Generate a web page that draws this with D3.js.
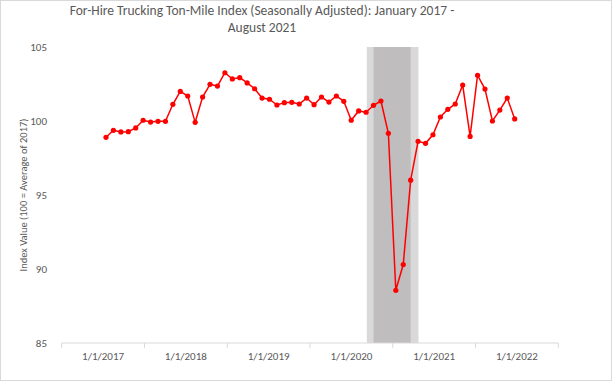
<!DOCTYPE html>
<html><head><meta charset="utf-8">
<script src="https://cdn.jsdelivr.net/npm/d3@7"></script>
<style>
html,body{margin:0;padding:0;background:#fff;}
svg{display:block;font-family:Carlito,Calibri,Lato,"Open Sans",sans-serif;}
</style></head>
<body><svg id="c" width="612" height="381"></svg>
<script>
// Data: monthly index Jan 2017 - Aug 2021
const values = [
  98.9, 99.37, 99.26, 99.28, 99.53, 100.05, 99.93, 99.98, 99.98, 101.13, 102.0, 101.69,
  99.91, 101.62, 102.48, 102.36, 103.26, 102.84, 102.93, 102.57, 102.18, 101.55, 101.47, 101.08,
  101.24, 101.26, 101.15, 101.55, 101.1, 101.62, 101.28, 101.69, 101.33, 100.05, 100.68, 100.59,
  101.06, 101.35, 99.17, 88.56, 90.3, 96.0, 98.63, 98.49, 99.07, 100.27, 100.79, 101.15,
  102.43, 98.96, 103.09, 102.16, 100.0, 100.74, 101.55, 100.14
];
const yearLabels = ["1/1/2017","1/1/2018","1/1/2019","1/1/2020","1/1/2021","1/1/2022"];
const yTicks = [85, 90, 95, 100, 105];
// recession shading in month-index units (outer light band, inner dark band)
const bandOuter = [35.1, 42.05];
const bandInner = [36.0, 41.0];
const titleLines = ["For-Hire Trucking Ton-Mile Index (Seasonally Adjusted): January 2017 -", "August 2021"];
const yTitle = "Index Value (100 = Average of 2017)";

const svg = d3.select("#c");
const W = 612, H = 381;
svg.append("rect").attr("x",0.5).attr("y",0.5).attr("width",W-1).attr("height",H-1)
  .attr("fill","#fff").attr("stroke","#d9d9d9");

const plotTop = 47, plotBottom = 343;
const y = d3.scaleLinear().domain([85,105]).range([plotBottom, plotTop]);
const x = d3.scaleLinear().domain([0, values.length-1]).range([106, 514.7]);
const xb = d3.scaleBand().domain(yearLabels).range([61.7, 558.3]);

// shading
svg.append("rect").attr("x",x(bandOuter[0])).attr("width",x(bandOuter[1])-x(bandOuter[0]))
  .attr("y",plotTop).attr("height",plotBottom-plotTop).attr("fill","#d9d9d9");
svg.append("rect").attr("x",x(bandInner[0])).attr("width",x(bandInner[1])-x(bandInner[0]))
  .attr("y",plotTop).attr("height",plotBottom-plotTop).attr("fill","#bfbdbe");

// x axis
const gx = svg.append("g").attr("transform",`translate(0,${plotBottom})`);
gx.append("line").attr("x1",xb.range()[0]).attr("x2",xb.range()[1]).attr("stroke","#d9d9d9").attr("stroke-width",1);
const tickPos = yearLabels.map(d=>xb(d)).concat([xb.range()[1]]);
gx.selectAll("line.tk").data(tickPos).join("line").attr("class","tk")
  .attr("x1",d=>d).attr("x2",d=>d).attr("y1",0).attr("y2",5).attr("stroke","#d9d9d9");
gx.selectAll("text").data(yearLabels).join("text")
  .attr("x",d=>xb(d)+xb.bandwidth()/2).attr("y",17).attr("text-anchor","middle")
  .attr("fill","#595959").attr("font-size","11px").text(d=>d);

// y axis labels
svg.append("g").selectAll("text").data(yTicks).join("text")
  .attr("x",47).attr("y",d=>y(d)+4).attr("text-anchor","end")
  .attr("fill","#595959").attr("font-size","11px").text(d=>d);

svg.append("text").attr("transform",`translate(27,${(plotTop+plotBottom)/2}) rotate(-90)`)
  .attr("text-anchor","middle").attr("fill","#595959").attr("font-size","10.5px").text(yTitle);

// title
svg.append("g").selectAll("text").data(titleLines).join("text")
  .attr("x",262).attr("y",(d,i)=>15+i*17).attr("text-anchor","middle")
  .attr("fill","#595959").attr("font-size","13.5px").text(d=>d);

// line
const line = d3.line().x((d,i)=>x(i)).y(d=>y(d));
svg.append("path").datum(values).attr("d",line).attr("fill","none")
  .attr("stroke","#ff0000").attr("stroke-width",1.5);
svg.append("g").selectAll("circle").data(values).join("circle")
  .attr("cx",(d,i)=>x(i)).attr("cy",d=>y(d)).attr("r",2.6).attr("fill","#ff0000");
</script></body></html>
